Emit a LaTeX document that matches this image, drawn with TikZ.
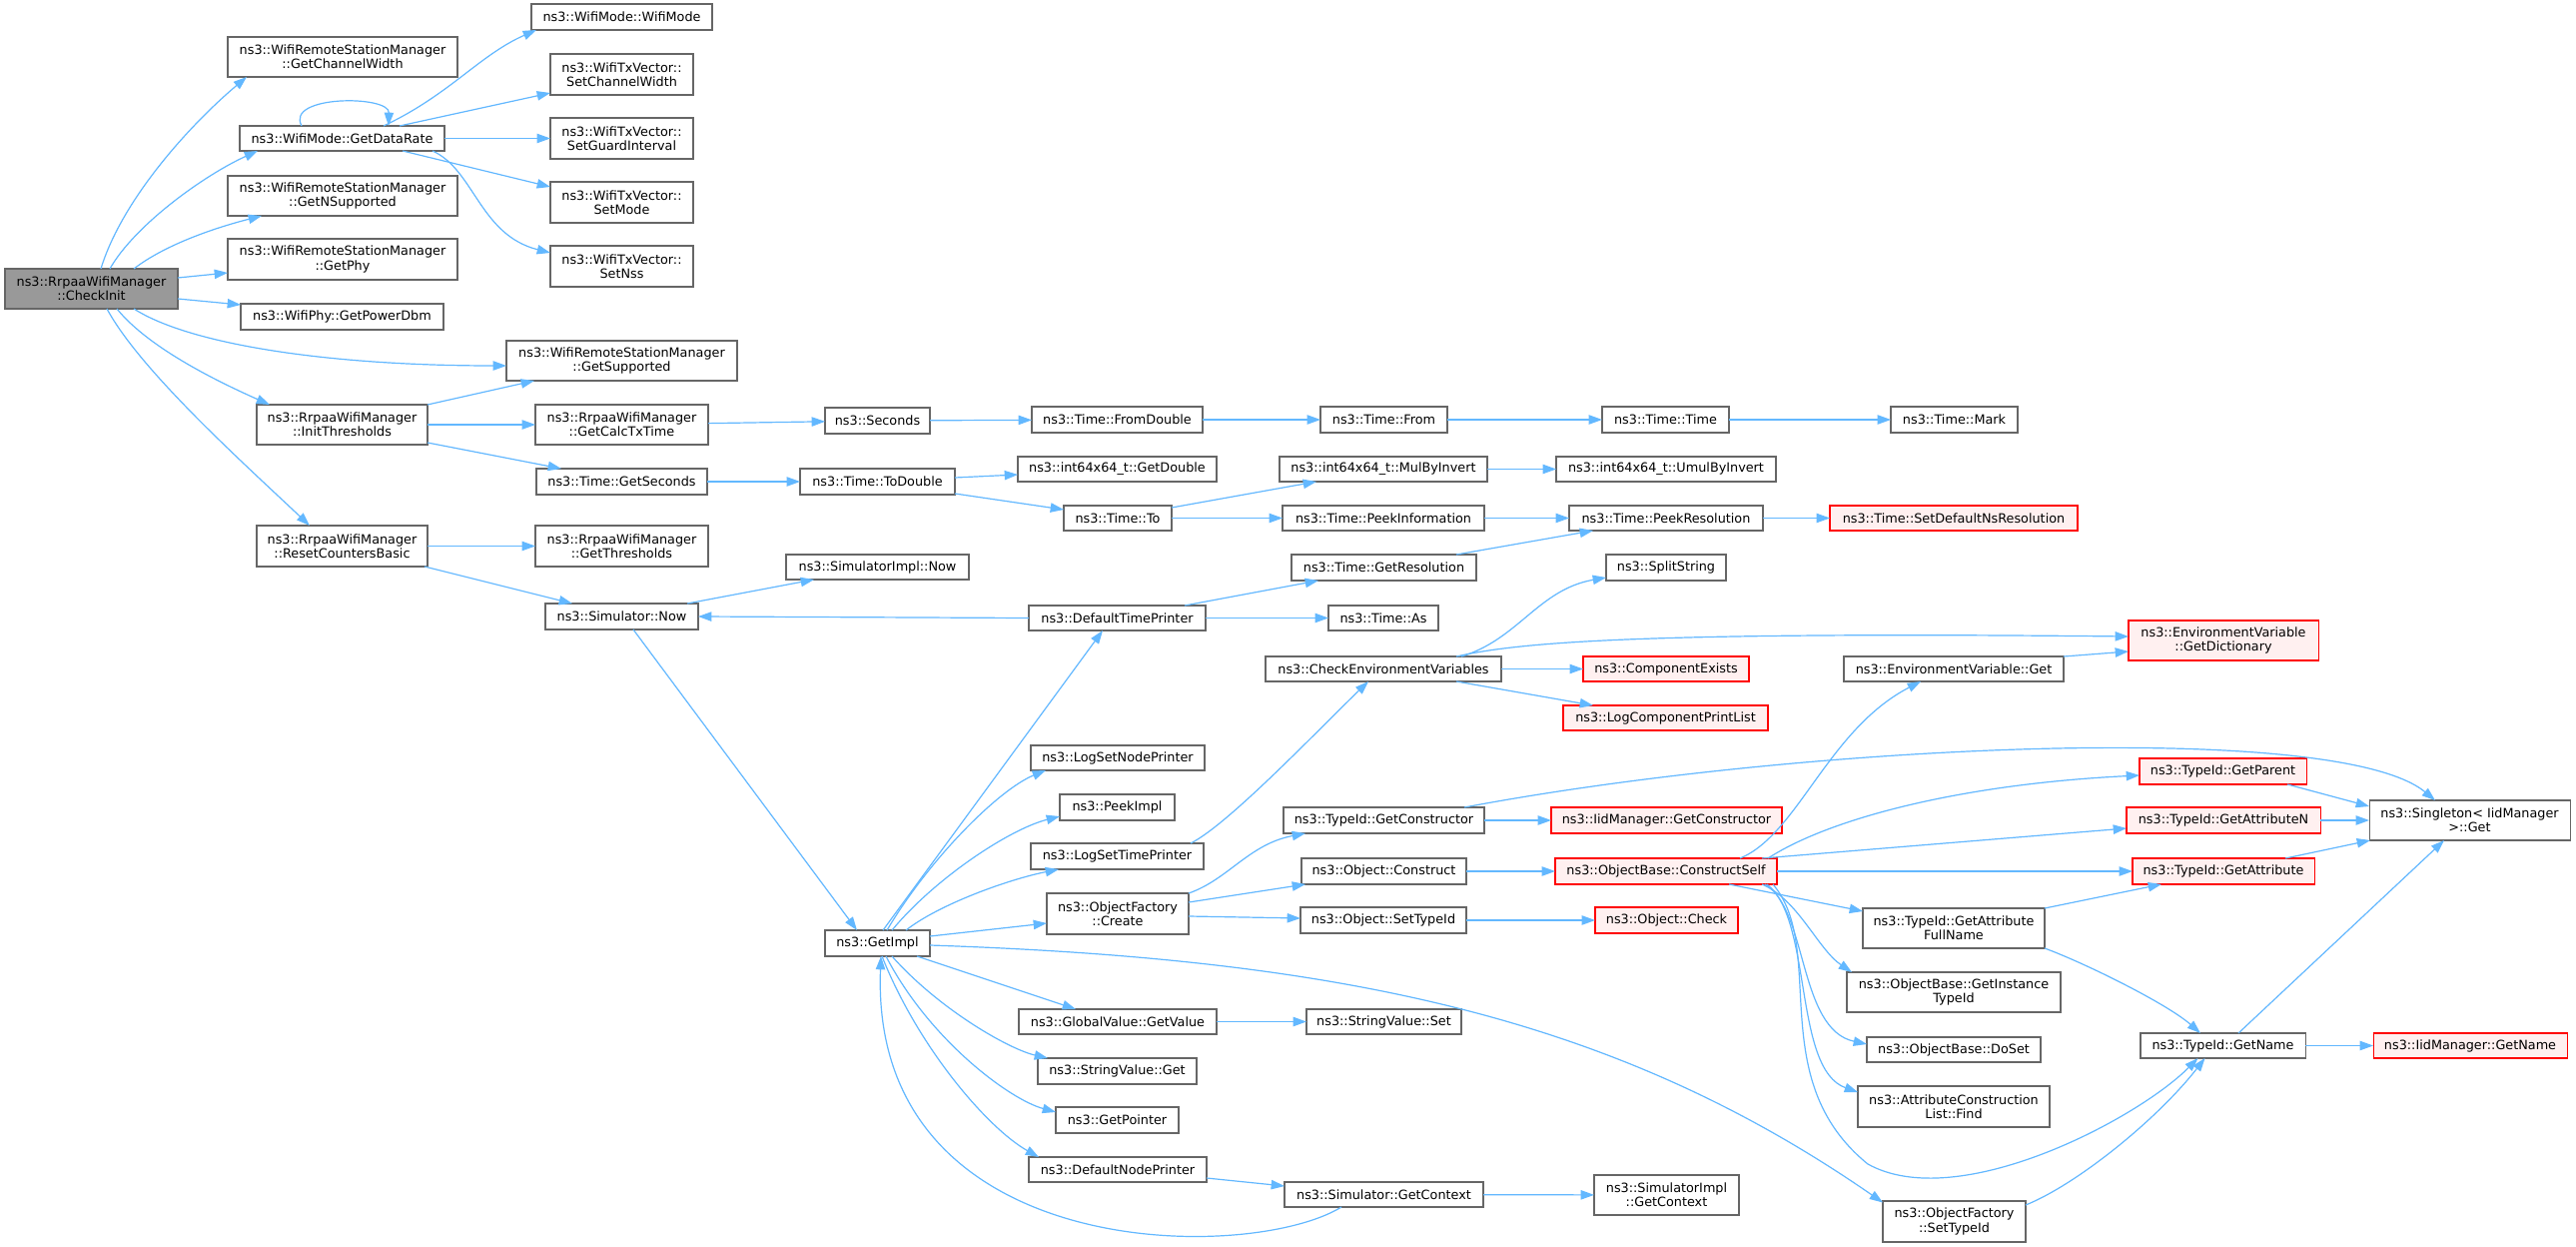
\documentclass[tikz,border=0pt]{standalone}
\usepackage{fontspec}
\setmainfont{DejaVu Sans}
\usetikzlibrary{arrows.meta,calc}
\definecolor{edgeblue}{HTML}{63B8FF}
\definecolor{boxgray}{HTML}{666666}
\definecolor{redfill}{HTML}{FFF0F0}
\definecolor{focusfill}{HTML}{999999}
\newcommand{\nd}[7]{\node[#1, minimum width={(#5-#3)*0.75pt}, minimum height={(#6-#4)*0.75pt}] (#2) at ({(#3+#5)/2},{(#4+#6)/2}) {#7};}
\begin{document}
\begin{tikzpicture}[x=0.75pt,y=-0.75pt,
 box/.style={draw, line width=0.8pt, inner sep=0pt, outer sep=0pt, align=center, font=\fontsize{9.6pt}{10.8pt}\selectfont},
 boxn/.style={box, draw=boxgray, fill=white},
 boxr/.style={box, draw=red, fill=redfill},
 boxg/.style={box, draw=boxgray, fill=focusfill},
 calledge/.style={draw=edgeblue, line width=0.9pt, -{Triangle[length=10pt,width=7pt]}}]
\fill[white] (0,0) rectangle (2579,1248);
\useasboundingbox (0,0) rectangle (2579,1248);
% column 0
\nd{boxg}{ci}{5}{269}{178}{309}{ns3::RrpaaWifiManager\\::CheckInit}
% column 1
\nd{boxn}{gcw}{228}{37}{458}{77}{ns3::WifiRemoteStationManager\\::GetChannelWidth}
\nd{boxn}{gdr}{240}{126}{445}{151}{ns3::WifiMode::GetDataRate}
\nd{boxn}{gns}{228}{176}{458}{216}{ns3::WifiRemoteStationManager\\::GetNSupported}
\nd{boxn}{gph}{228}{239}{458}{280}{ns3::WifiRemoteStationManager\\::GetPhy}
\nd{boxn}{gpd}{241}{304}{444}{330}{ns3::WifiPhy::GetPowerDbm}
\nd{boxn}{ith}{257}{405}{428}{445}{ns3::RrpaaWifiManager\\::InitThresholds}
\nd{boxn}{rcb}{257}{526}{428}{567}{ns3::RrpaaWifiManager\\::ResetCountersBasic}
% column 2
\nd{boxn}{wmw}{532}{4}{713}{30}{ns3::WifiMode::WifiMode}
\nd{boxn}{scw}{551}{54}{694}{95}{ns3::WifiTxVector::\\SetChannelWidth}
\nd{boxn}{sgi}{551}{118}{694}{159}{ns3::WifiTxVector::\\SetGuardInterval}
\nd{boxn}{smo}{551}{182}{694}{223}{ns3::WifiTxVector::\\SetMode}
\nd{boxn}{sns}{551}{246}{694}{287}{ns3::WifiTxVector::\\SetNss}
\nd{boxn}{gsu}{507}{341}{738}{381}{ns3::WifiRemoteStationManager\\::GetSupported}
\nd{boxn}{gct}{536}{405}{709}{445}{ns3::RrpaaWifiManager\\::GetCalcTxTime}
\nd{boxn}{gse}{537}{469}{708}{495}{ns3::Time::GetSeconds}
\nd{boxn}{gth}{536}{526}{709}{567}{ns3::RrpaaWifiManager\\::GetThresholds}
\nd{boxn}{snow}{546}{604}{699}{630}{ns3::Simulator::Now}
% column 3
\nd{boxn}{sec}{826}{408}{931}{434}{ns3::Seconds}
\nd{boxn}{tod}{801}{469}{956}{495}{ns3::Time::ToDouble}
\nd{boxn}{sin}{787}{555}{970}{580}{ns3::SimulatorImpl::Now}
\nd{boxn}{gim}{826}{931}{931}{957}{ns3::GetImpl}
% column 4
\nd{boxn}{fdb}{1033}{407}{1204}{433}{ns3::Time::FromDouble}
\nd{boxn}{gdb}{1019}{457}{1218}{482}{ns3::int64x64\_t::GetDouble}
\nd{boxn}{tto}{1065}{506}{1173}{531}{ns3::Time::To}
\nd{boxn}{dtp}{1030}{606}{1207}{631}{ns3::DefaultTimePrinter}
\nd{boxn}{lsnp}{1032}{746}{1206}{771}{ns3::LogSetNodePrinter}
\nd{boxn}{pim}{1061}{795}{1176}{821}{ns3::PeekImpl}
\nd{boxn}{lstp}{1032}{844}{1205}{870}{ns3::LogSetTimePrinter}
\nd{boxn}{ofc}{1048}{894}{1190}{935}{ns3::ObjectFactory\\::Create}
\nd{boxn}{gvv}{1020}{1010}{1218}{1035}{ns3::GlobalValue::GetValue}
\nd{boxn}{svg}{1039}{1059}{1198}{1085}{ns3::StringValue::Get}
\nd{boxn}{gpt}{1057}{1108}{1180}{1134}{ns3::GetPointer}
\nd{boxn}{dnp}{1030}{1158}{1208}{1183}{ns3::DefaultNodePrinter}
% column 5
\nd{boxn}{tfr}{1322}{407}{1449}{433}{ns3::Time::From}
\nd{boxn}{mbi}{1281}{457}{1489}{482}{ns3::int64x64\_t::MulByInvert}
\nd{boxn}{tpi}{1284}{506}{1486}{531}{ns3::Time::PeekInformation}
\nd{boxn}{gres}{1293}{555}{1478}{581}{ns3::Time::GetResolution}
\nd{boxn}{tas}{1330}{606}{1440}{631}{ns3::Time::As}
\nd{boxn}{cev}{1267}{657}{1503}{682}{ns3::CheckEnvironmentVariables}
\nd{boxn}{tgc}{1285}{808}{1486}{834}{ns3::TypeId::GetConstructor}
\nd{boxn}{ocn}{1303}{859}{1468}{885}{ns3::Object::Construct}
\nd{boxn}{ost}{1302}{908}{1468}{934}{ns3::Object::SetTypeId}
\nd{boxn}{svs}{1308}{1010}{1463}{1035}{ns3::StringValue::Set}
\nd{boxn}{sgc}{1286}{1183}{1485}{1208}{ns3::Simulator::GetContext}
% column 6
\nd{boxn}{ttm}{1604}{407}{1731}{433}{ns3::Time::Time}
\nd{boxn}{umi}{1558}{457}{1778}{482}{ns3::int64x64\_t::UmulByInvert}
\nd{boxn}{tpr}{1571}{506}{1765}{531}{ns3::Time::PeekResolution}
\nd{boxn}{sps}{1608}{555}{1728}{581}{ns3::SplitString}
\nd{boxr}{cex}{1585}{657}{1751}{682}{ns3::ComponentExists}
\nd{boxr}{lcp}{1565}{706}{1770}{731}{ns3::LogComponentPrintList}
\nd{boxr}{igc}{1553}{808}{1784}{834}{ns3::IidManager::GetConstructor}
\nd{boxr}{ocs}{1557}{859}{1779}{885}{ns3::ObjectBase::ConstructSelf}
\nd{boxr}{och}{1597}{908}{1740}{934}{ns3::Object::Check}
\nd{boxn}{sigc}{1596}{1176}{1741}{1216}{ns3::SimulatorImpl\\::GetContext}
% column 7
\nd{boxn}{tmk}{1893}{407}{2020}{433}{ns3::Time::Mark}
\nd{boxr}{sdr}{1832}{506}{2080}{531}{ns3::Time::SetDefaultNsResolution}
\nd{boxn}{evg}{1846}{657}{2066}{682}{ns3::EnvironmentVariable::Get}
\nd{boxn}{gafn}{1865}{909}{2047}{949}{ns3::TypeId::GetAttribute\\FullName}
\nd{boxn}{git}{1849}{973}{2063}{1013}{ns3::ObjectBase::GetInstance\\TypeId}
\nd{boxn}{dos}{1869}{1038}{2043}{1063}{ns3::ObjectBase::DoSet}
\nd{boxn}{acl}{1860}{1087}{2052}{1128}{ns3::AttributeConstruction\\List::Find}
\nd{boxn}{ofs}{1885}{1202}{2028}{1243}{ns3::ObjectFactory\\::SetTypeId}
% column 8
\nd{boxr}{gdi}{2131}{621}{2321}{661}{ns3::EnvironmentVariable\\::GetDictionary}
\nd{boxr}{gpa}{2142}{759}{2309}{785}{ns3::TypeId::GetParent}
\nd{boxr}{gan}{2129}{808}{2323}{834}{ns3::TypeId::GetAttributeN}
\nd{boxr}{gat}{2135}{859}{2317}{885}{ns3::TypeId::GetAttribute}
\nd{boxn}{tgn}{2143}{1034}{2308}{1059}{ns3::TypeId::GetName}
% column 9
\nd{boxn}{sgl}{2372}{801}{2573}{841}{ns3::Singleton< IidManager\\>::Get}
\nd{boxr}{ign}{2376}{1034}{2570}{1059}{ns3::IidManager::GetName}
% ---------------- edges ----------------
% CheckInit
\draw[calledge] ($(ci)+(9.5,-20)$) .. controls (122,200) and (190,125) .. ($(gcw)+(-96,20)$);
\draw[calledge] ($(ci)+(18.5,-20)$) .. controls (135,225) and (205,175) .. ($(gdr)+(-84.5,12.5)$);
\draw[calledge] ($(ci)+(42.5,-20)$) .. controls (165,245) and (215,228) .. ($(gns)+(-81,20)$);
\draw[calledge] ($(ci)+(86.5,-11)$) -- ($(gph)+(-115,13.5)$);
\draw[calledge] ($(ci)+(86.5,10)$) -- ($(gpd)+(-101.5,-12)$);
\draw[calledge] ($(ci)+(42.5,20)$) .. controls (190,345) and (330,366) .. ($(gsu)+(-115.5,5)$);
\draw[calledge] ($(ci)+(25.5,20)$) .. controls (150,350) and (225,385) .. ($(ith)+(-72.5,-20)$);
\draw[calledge] ($(ci)+(15.5,20)$) .. controls (140,370) and (240,460) .. ($(rcb)+(-32.5,-20.5)$);
% GetDataRate
\draw[calledge] ($(gdr)+(-40.5,-12.5)$) .. controls (285,95) and (390,95) .. ($(gdr)+(46.5,-12.5)$);
\draw[calledge] ($(gdr)+(41.5,-12.5)$) .. controls (450,95) and (480,55) .. ($(wmw)+(-85.5,13)$);
\draw[calledge] ($(gdr)+(57.5,-12.5)$) -- ($(scw)+(-71.5,18.5)$);
\draw[calledge] (gdr) -- (sgi);
\draw[calledge] ($(gdr)+(60.5,12.5)$) -- ($(smo)+(-71.5,-15.5)$);
\draw[calledge] ($(gdr)+(90.5,12.5)$) .. controls (475,170) and (480,235) .. ($(sns)+(-71.5,-13.5)$);
% InitThresholds / ResetCountersBasic
\draw[calledge] ($(ith)+(85.5,-20)$) -- ($(gsu)+(-87.5,20)$);
\draw[calledge] (ith) -- (gct);
\draw[calledge] ($(ith)+(85.5,18)$) -- ($(gse)+(-60.5,-13)$);
\draw[calledge] (gct) -- (sec);
\draw[calledge] (gse) -- (tod);
\draw[calledge] (rcb) -- (gth);
\draw[calledge] ($(rcb)+(82.5,20.5)$) -- ($(snow)+(-49.5,-13)$);
\draw[calledge] ($(snow)+(65.5,-13)$) -- ($(sin)+(-63.5,12.5)$);
\draw[calledge] (dtp.west) -- (snow.east);
\draw[calledge] ($(snow)+(11.5,13)$) -- ($(gim)+(-20.5,-13)$);
% Time chain
\draw[calledge] (sec) -- (fdb);
\draw[calledge] (fdb) -- (tfr);
\draw[calledge] (tfr) -- (ttm);
\draw[calledge] (ttm) -- (tmk);
\draw[calledge] ($(tod)+(77.5,-4)$) -- ($(gdb)+(-99.5,5.5)$);
\draw[calledge] ($(tod)+(77.5,12)$) -- ($(tto)+(-54,-8.5)$);
\draw[calledge] ($(tto)+(54,-10.5)$) -- ($(mbi)+(-67,12.5)$);
\draw[calledge] (tto) -- (tpi);
\draw[calledge] (mbi) -- (umi);
\draw[calledge] (tpi) -- (tpr);
\draw[calledge] ($(gres)+(72.5,-13)$) -- ($(tpr)+(-73,12.5)$);
\draw[calledge] (tpr) -- (sdr);
\draw[calledge] ($(dtp)+(67.5,-12.5)$) -- ($(gres)+(-65.5,13)$);
\draw[calledge] (dtp) -- (tas);
% GetImpl
\draw[calledge] ($(gim)+(5.5,-13)$) -- ($(dtp)+(-14.5,12.5)$);
\draw[calledge] ($(gim)+(9.5,-13)$) .. controls (930,860) and (1000,790) .. ($(lsnp)+(-72,12.5)$);
\draw[calledge] ($(gim)+(14.5,-13)$) .. controls (935,880) and (1010,830) .. ($(pim)+(-57.5,9)$);
\draw[calledge] ($(gim)+(28.5,-13)$) .. controls (940,905) and (1010,880) .. ($(lstp)+(-58.5,13)$);
\draw[calledge] ($(gim)+(52.5,-7)$) -- ($(ofc)+(-71,9.5)$);
\draw[calledge] ($(gim)+(39.5,13)$) -- ($(gvv)+(-42,-12.5)$);
\draw[calledge] ($(gim)+(14.5,13)$) .. controls (940,1010) and (1010,1050) .. ($(svg)+(-69.5,-13)$);
\draw[calledge] ($(gim)+(8.5,13)$) .. controls (930,1040) and (1010,1100) .. ($(gpt)+(-61.5,-8)$);
\draw[calledge] ($(gim)+(4.5,13)$) .. controls (920,1050) and (990,1130) .. ($(dnp)+(-79,-12.5)$);
\draw[calledge] ($(sgc)+(-42.5,12.5)$) .. controls (1250,1265) and (870,1265) .. ($(gim)+(3.5,13)$);
\draw[calledge] ($(gim)+(52.5,2)$) .. controls (1350,960) and (1620,1020) .. ($(ofs)+(-71.5,-19)$);
% LogSetTimePrinter / CheckEnvironmentVariables
\draw[calledge] ($(lstp)+(73.5,-13)$) .. controls (1230,825) and (1320,730) .. ($(cev)+(-15,12.5)$);
\draw[calledge] ($(cev)+(78,-12.5)$) .. controls (1520,640) and (1540,590) .. ($(sps)+(-60,10)$);
\draw[calledge] ($(cev)+(73,-12.5)$) .. controls (1520,643) and (1640,632) .. ($(gdi)+(-95,-4)$);
\draw[calledge] (cev) -- (cex);
\draw[calledge] ($(cev)+(73,12.5)$) -- ($(lcp)+(-72.5,-12.5)$);
\draw[calledge] ($(evg)+(110,-12.5)$) -- ($(gdi)+(-95,11)$);
% ObjectFactory::Create
\draw[calledge] ($(ofc)+(71,-20.5)$) .. controls (1230,880) and (1250,845) .. ($(tgc)+(-78.5,13)$);
\draw[calledge] ($(ofc)+(71,-11.5)$) -- ($(ocn)+(-78.5,13)$);
\draw[calledge] ($(ofc)+(71,2.5)$) -- ($(ost)+(-83,-2)$);
\draw[calledge] (tgc) -- (igc);
\draw[calledge] ($(tgc)+(80.5,-13)$) .. controls (1800,745) and (2340,720) .. ($(sgl)+(-34.5,-20)$);
\draw[calledge] (ocn) -- (ocs);
\draw[calledge] (ost) -- (och);
\draw[calledge] (gvv) -- (svs);
\draw[calledge] ($(dnp)+(89,8.5)$) -- ($(sgc)+(-99.5,-8.5)$);
\draw[calledge] (sgc) -- (sigc);
% ConstructSelf
\draw[calledge] ($(ocs)+(96,-13)$) -- ($(gan)+(-97,8)$);
\draw[calledge] (ocs) -- (gat);
\draw[calledge] ($(ocs)+(63,13)$) -- ($(gafn)+(-91,-17)$);
\draw[calledge] ($(ocs)+(96,13)$) .. controls (1800,900) and (1820,950) .. ($(git)+(-102,-20)$);
\draw[calledge] ($(ocs)+(99,13)$) .. controls (1810,910) and (1800,1030) .. ($(dos)+(-87,-5.5)$);
\draw[calledge] ($(ocs)+(101,13)$) .. controls (1815,920) and (1795,1070) .. ($(acl)+(-96,-14.5)$);
\draw[calledge] ($(ocs)+(107,13)$) .. controls (1830,950) and (1765,1080) .. (1870,1165) .. controls (1960,1215) and (2140,1120) .. ($(tgn)+(-25,12.5)$);
\draw[calledge] ($(ocs)+(74,-13)$) .. controls (1800,835) and (1830,730) .. ($(evg)+(-33,12.5)$);
\draw[calledge] ($(ocs)+(102,-13)$) .. controls (1830,820) and (1960,785) .. ($(gpa)+(-83.5,4)$);
% to Singleton / GetName
\draw[calledge] ($(gpa)+(64.5,13)$) -- ($(sgl)+(-100.5,-14)$);
\draw[calledge] (gan) -- (sgl);
\draw[calledge] ($(gat)+(62,-13)$) -- ($(sgl)+(-99.5,20)$);
\draw[calledge] ($(gafn)+(91,-20)$) -- ($(gat)+(-62,13)$);
\draw[calledge] ($(gafn)+(91,20)$) .. controls (2090,965) and (2170,1005) .. ($(tgn)+(-22.5,-12.5)$);
\draw[calledge] ($(tgn)+(15.5,-12.5)$) -- ($(sgl)+(-25.5,20)$);
\draw[calledge] (tgn) -- (ign);
\draw[calledge] ($(ofs)+(71.5,-16.5)$) .. controls (2080,1185) and (2160,1120) .. ($(tgn)+(-18,12.5)$);
\end{tikzpicture}
\end{document}
